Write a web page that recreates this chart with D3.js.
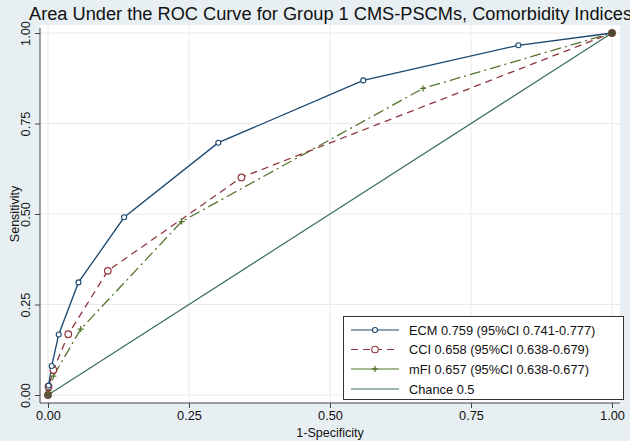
<!DOCTYPE html>
<html><head><meta charset="utf-8">
<script src="https://cdn.jsdelivr.net/npm/d3@7"></script>
<style>body{margin:0;background:#e8eff2}svg{display:block}</style>
</head><body>
<script>
const title = "Area Under the ROC Curve for Group 1 CMS-PSCMs, Comorbidity Indices";
const ticks = [0, 0.25, 0.5, 0.75, 1];
const tickLabels = ["0.00", "0.25", "0.50", "0.75", "1.00"];
const ecmX = [0, 0.001, 0.0065, 0.019, 0.054, 0.135, 0.302, 0.559, 0.834, 1];
const ecmY = [0, 0.026, 0.08, 0.167, 0.311, 0.491, 0.697, 0.869, 0.966, 1];
const cciX = [0, 0.001, 0.0095, 0.036, 0.106, 0.343, 1];
const cciY = [0, 0.023, 0.069, 0.168, 0.343, 0.601, 1];
const mfiX = [0, 0.001, 0.0095, 0.058, 0.237, 0.665, 1];
const mfiY = [0, 0.012, 0.052, 0.182, 0.479, 0.847, 1];
const chanceX = [0, 1];
const chanceY = [0, 1];
const legendLabels = ["ECM 0.759 (95%CI 0.741-0.777)", "CCI 0.658 (95%CI 0.638-0.679)", "mFI 0.657 (95%CI 0.638-0.677)", "Chance 0.5"];

const W = 630, H = 441;
const svg = d3.select("body").append("svg").attr("width", W).attr("height", H);
svg.append("rect").attr("width", W).attr("height", H).attr("fill", "#e8eff2");
const plot = {l: 40, r: 620, t: 25, b: 403};
svg.append("rect").attr("x", plot.l).attr("y", plot.t).attr("width", plot.r - plot.l).attr("height", plot.b - plot.t).attr("fill", "#fff");

const x = d3.scaleLinear().domain([0, 1]).range([48, 612]);
const y = d3.scaleLinear().domain([0, 1]).range([395, 33]);
const font = "Liberation Sans, Arial, Helvetica, sans-serif";

// grid
const g = svg.append("g");
ticks.forEach(t => {
  g.append("line").attr("x1", x(t)).attr("x2", x(t)).attr("y1", plot.t).attr("y2", plot.b).attr("stroke", "#eaeaea").attr("stroke-width", 1);
  g.append("line").attr("y1", y(t)).attr("y2", y(t)).attr("x1", plot.l).attr("x2", plot.r).attr("stroke", "#eaeaea").attr("stroke-width", 1);
});

// axes
const xAxis = d3.axisBottom(x).tickValues(ticks).tickFormat((d, i) => tickLabels[i]).tickSize(5).tickPadding(3);
const xg = svg.append("g").attr("transform", `translate(0,${plot.b})`).call(xAxis);
xg.select(".domain").attr("d", `M${plot.l},0H${plot.r}`).attr("stroke", "#444");
xg.selectAll(".tick line").attr("stroke", "#444");
xg.selectAll("text").attr("font-family", font).attr("font-size", 12.8).attr("fill", "#111");

const yAxis = d3.axisLeft(y).tickValues(ticks).tickFormat((d, i) => tickLabels[i]).tickSize(5).tickPadding(3);
const yg = svg.append("g").attr("transform", `translate(${plot.l},0)`).call(yAxis);
yg.select(".domain").attr("d", `M0,${plot.t + 3}V${plot.b}`).attr("stroke", "#444");
yg.selectAll(".tick line").attr("stroke", "#444");
yg.selectAll("text").attr("font-family", font).attr("font-size", 12.8).attr("fill", "#111")
  .attr("transform", "rotate(-90)").attr("x", 0).attr("y", -10).attr("text-anchor", "middle").attr("dy", "0");

svg.append("text").attr("x", x(0.5)).attr("y", 437).attr("text-anchor", "middle").attr("font-family", font).attr("font-size", 12.5).attr("fill", "#111").text("1-Specificity");
svg.append("text").attr("transform", `translate(19,${y(0.5)}) rotate(-90)`).attr("text-anchor", "middle").attr("font-family", font).attr("font-size", 12.5).attr("fill", "#111").text("Sensitivity");

svg.append("text").attr("x", 29).attr("y", 20).attr("font-family", font).attr("font-size", 18).attr("fill", "#111")
  .attr("textLength", 603).attr("lengthAdjust", "spacingAndGlyphs").text(title);

const line = d3.line().x(d => x(d[0])).y(d => y(d[1]));
const zip = (a, b) => a.map((v, i) => [v, b[i]]);

const C = {ecm: "#1a476f", cci: "#90353b", mfi: "#55752f", chance: "#3b6e5c"};

svg.append("path").attr("d", line(zip(chanceX, chanceY))).attr("fill", "none").attr("stroke", C.chance).attr("stroke-width", 1.2);
svg.append("path").attr("d", line(zip(mfiX, mfiY))).attr("fill", "none").attr("stroke", C.mfi).attr("stroke-width", 1.3).attr("stroke-dasharray", "11,4,2,4");
svg.append("path").attr("d", line(zip(cciX, cciY))).attr("fill", "none").attr("stroke", C.cci).attr("stroke-width", 1.3).attr("stroke-dasharray", "7,5");
svg.append("path").attr("d", line(zip(ecmX, ecmY))).attr("fill", "none").attr("stroke", C.ecm).attr("stroke-width", 1.3);

function plus(sel, cx, cy, s, col) {
  sel.append("path").attr("d", `M${cx - s},${cy}H${cx + s}M${cx},${cy - s}V${cy + s}`).attr("stroke", col).attr("stroke-width", 1.3);
}
zip(mfiX, mfiY).forEach(d => plus(svg, x(d[0]), y(d[1]), 3, C.mfi));
svg.selectAll(".cci").data(zip(cciX, cciY)).join("circle").attr("cx", d => x(d[0])).attr("cy", d => y(d[1])).attr("r", 3.3).attr("fill", "#fff").attr("stroke", C.cci).attr("stroke-width", 1.2);
svg.selectAll(".ecm").data(zip(ecmX, ecmY)).join("circle").attr("cx", d => x(d[0])).attr("cy", d => y(d[1])).attr("r", 2.5).attr("fill", "#fff").attr("stroke", C.ecm).attr("stroke-width", 1.1);
svg.append("circle").attr("cx", x(0)).attr("cy", y(0)).attr("r", 3.5).attr("fill", "#5a5a3a");
svg.append("circle").attr("cx", x(1)).attr("cy", y(1)).attr("r", 3.5).attr("fill", "#4a4a30");

// legend
const lg = svg.append("g");
lg.append("rect").attr("x", 343.5).attr("y", 316.5).attr("width", 280).attr("height", 83).attr("fill", "#fff").attr("stroke", "#333").attr("stroke-width", 1);
const rowsY = [330, 349.5, 369, 389];
const styles = [
  {c: C.ecm, dash: null, m: "circle", r: 2.5},
  {c: C.cci, dash: "7,5", m: "circle", r: 3.3},
  {c: C.mfi, dash: null, m: "plus"},
  {c: C.chance, dash: null, m: null}
];
legendLabels.forEach((lab, i) => {
  const s = styles[i], yy = rowsY[i];
  lg.append("line").attr("x1", 351).attr("x2", 399).attr("y1", yy).attr("y2", yy).attr("stroke", s.c).attr("stroke-width", 1.2).attr("stroke-dasharray", s.dash);
  if (s.m === "circle") lg.append("circle").attr("cx", 375).attr("cy", yy).attr("r", s.r).attr("fill", "#fff").attr("stroke", s.c).attr("stroke-width", 1.1);
  if (s.m === "plus") plus(lg, 375, yy, 3, s.c);
  lg.append("text").attr("x", 409).attr("y", yy + 4.5).attr("font-family", font).attr("font-size", 12.8).attr("fill", "#111").text(lab);
});
</script>
</body></html>
